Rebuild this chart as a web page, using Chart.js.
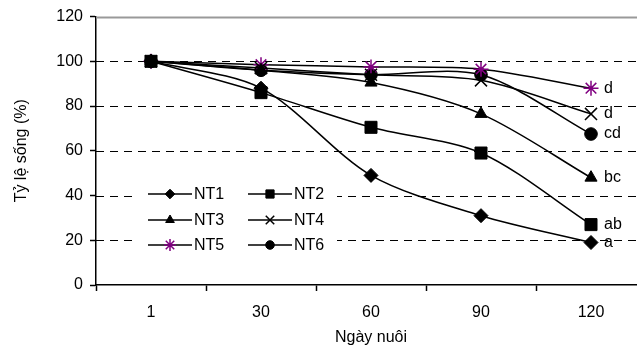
<!DOCTYPE html>
<html>
<head>
<meta charset="utf-8">
<script src="https://cdn.jsdelivr.net/npm/chart.js@4/dist/chart.umd.min.js"></script>
<style>
  html, body { margin: 0; padding: 0; background: #fff; overflow: hidden; }
  #khung { width: 660px; height: 351px; }
</style>
</head>
<body>
<div id="khung"><canvas id="bieuDo"></canvas></div>
<script>
const ngayNuoi = ["1", "30", "60", "90", "120"];
const mocTrucY = [0, 20, 40, 60, 80, 100, 120];

const nt1 = [100, 88, 49, 31, 19];
const nt2 = [100, 86, 70.5, 59, 27];
const nt3 = [100, 96, 90.5, 76.5, 48];
const nt4 = [100, 97, 94, 91.5, 76.5];
const nt5 = [100, 98.5, 97.5, 96.5, 88];
const nt6 = [100, 96, 94, 94, 67.5];

const nhanThongKe = ["a", "ab", "bc", "d", "d", "cd"];

const FONT = "'Liberation Sans', Arial, sans-serif";
const TIM = "#800080";

function taoDuLieu(ten, giaTri, kieu, r, mau, doDay) {
  return {
    label: ten,
    data: giaTri,
    borderColor: "#000",
    borderWidth: 1.5,
    tension: 0.3,
    pointStyle: kieu,
    pointRadius: r,
    pointHoverRadius: r,
    pointBackgroundColor: mau,
    pointBorderColor: mau,
    pointBorderWidth: doDay,
  };
}

const danhSach = [
  taoDuLieu("NT1", nt1, "rectRot", 7, "#000", 1),
  taoDuLieu("NT2", nt2, "rect", 8.5, "#000", 1),
  taoDuLieu("NT3", nt3, "triangle", 7, "#000", 1),
  taoDuLieu("NT4", nt4, "crossRot", 8.5, "#000", 1.5),
  taoDuLieu("NT5", nt5, "star", 7.5, TIM, 1.5),
  taoDuLieu("NT6", nt6, "circle", 6.3, "#000", 1),
];

// luoi ngang net dut, ve tu cac moc cua truc y
const luoiNgang = {
  id: "luoiNgang",
  beforeDatasetsDraw(chart) {
    const { ctx, chartArea, scales } = chart;
    ctx.save();
    scales.y.ticks.forEach((t) => {
      if (t.value === 0) return;
      const y = Math.round(scales.y.getPixelForValue(t.value)) + 0.5;
      ctx.beginPath();
      if (t.value === 120) {
        ctx.setLineDash([]);
        ctx.strokeStyle = "#999";
        ctx.lineWidth = 2;
      } else {
        ctx.setLineDash([8, 6]);
        ctx.strokeStyle = "#000";
        ctx.lineWidth = 1;
      }
      ctx.moveTo(chartArea.left, y);
      ctx.lineTo(chartArea.right, y);
      ctx.stroke();
    });
    ctx.restore();
  },
  afterDatasetsDraw(chart) {
    const { ctx } = chart;
    ctx.save();
    // nhan chu cai o cuoi moi duong
    ctx.font = "16px " + FONT;
    ctx.fillStyle = "#000";
    ctx.textBaseline = "middle";
    chart.data.datasets.forEach((ds, i) => {
      const meta = chart.getDatasetMeta(i);
      const p = meta.data[meta.data.length - 1];
      ctx.fillText(nhanThongKe[i], p.x + 13, p.y);
    });

    // chu giai
    ctx.fillStyle = "#fff";
    ctx.fillRect(135, 184, 202, 72);
    const hang = [194, 220, 245];
    const cot = [148, 248];
    const coLegend = { rectRot: 4.8, rect: 5.8, triangle: 5, crossRot: 6, star: 6, circle: 4.3 };
    ctx.font = "16px " + FONT;
    chart.data.datasets.forEach((ds, i) => {
      const x0 = cot[i % 2];
      const y = hang[Math.floor(i / 2)];
      ctx.beginPath();
      ctx.strokeStyle = "#000";
      ctx.lineWidth = 1.5;
      ctx.moveTo(x0, y);
      ctx.lineTo(x0 + 44, y);
      ctx.stroke();
      ctx.fillStyle = ds.pointBackgroundColor;
      ctx.strokeStyle = ds.pointBorderColor;
      ctx.lineWidth = ds.pointBorderWidth;
      Chart.helpers.drawPoint(ctx, { pointStyle: ds.pointStyle, radius: coLegend[ds.pointStyle], borderWidth: ds.pointBorderWidth }, x0 + 22, y);
      ctx.fillStyle = "#000";
      ctx.textBaseline = "middle";
      ctx.fillText(ds.label, x0 + 46, y + 1);
    });
    ctx.restore();
  },
};

new Chart(document.getElementById("bieuDo"), {
  type: "line",
  data: { labels: ngayNuoi, datasets: danhSach },
  plugins: [luoiNgang],
  options: {
    responsive: true,
    maintainAspectRatio: false,
    animation: false,
    events: [],
    layout: { padding: { top: 14, right: 14, left: 0, bottom: 0 } },
    plugins: {
      legend: { display: false },
      tooltip: { enabled: false },
    },
    scales: {
      x: {
        offset: true,
        afterFit: (s) => { s.height = 66; },
        grid: {
          offset: true,
          drawOnChartArea: false,
          drawTicks: true,
          tickLength: 6,
          tickColor: "#000",
          tickWidth: 1.5,
        },
        border: { color: "#000", width: 1.5 },
        ticks: { color: "#000", font: { family: FONT, size: 16 }, padding: 12 },
        title: {
          display: true,
          text: "Ngày nuôi",
          color: "#000",
          font: { family: FONT, size: 16 },
          padding: { top: 2, bottom: 4 },
        },
      },
      y: {
        min: 0,
        max: 120,
        afterFit: (s) => { s.width = 96; },
        afterBuildTicks: (s) => { s.ticks = mocTrucY.map((v) => ({ value: v })); },
        grid: {
          drawOnChartArea: false,
          tickLength: 6,
          tickColor: "#000",
          tickWidth: 1.5,
        },
        border: { color: "#000", width: 1.5 },
        ticks: { color: "#000", font: { family: FONT, size: 16 }, padding: 7 },
        title: {
          display: true,
          text: "Tỷ lệ sống (%)",
          color: "#000",
          font: { family: FONT, size: 16 },
          padding: { top: 12, bottom: 0 },
        },
      },
    },
  },
});
</script>
</body>
</html>
